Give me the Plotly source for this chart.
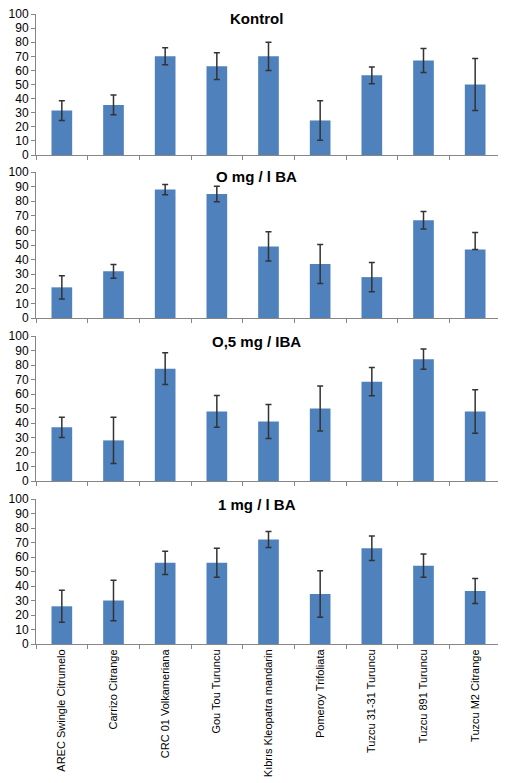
import plotly.graph_objects as go

categories = ["AREC Swingle Citrumelo", "Carrizo Citrange", "CRC 01 Volkameriana",
              "Gou Tou Turuncu", "Kıbrıs Kleopatra mandarin", "Pomeroy Trifoliata",
              "Tuzcu 31-31 Turuncu", "Tuzcu 891 Turuncu", "Tuzcu M2 Citrange"]

titles = ["Kontrol", "O mg / l BA", "O,5 mg / IBA", "1 mg / l BA"]

kontrol = [31.5, 35.5, 70, 63, 70, 24.5, 56.5, 67, 50]
kontrol_err = [7, 7, 6, 9.5, 10, 14, 6, 8.5, 18.5]
kontrol_err_minus = kontrol_err

mg0 = [21, 32, 88, 85, 49, 37, 28, 67, 47]
mg0_err = [8, 4.7, 3.5, 5.3, 10, 13.3, 10, 6, 11.5]
mg0_err_minus = [8, 4.7, 3.5, 5.3, 10, 13.3, 10, 6, 0]

mg05 = [37, 28, 77.5, 48, 41, 50, 68.5, 84, 48]
mg05_err = [7, 16, 11, 11, 11.7, 15.5, 9.7, 7, 15]
mg05_err_minus = mg05_err

mg1 = [26, 30, 56, 56, 72, 34.5, 66, 54, 36.5]
mg1_err = [11, 14, 8, 10, 5.5, 16, 8.5, 8, 8.6]
mg1_err_minus = mg1_err

series = [(kontrol, kontrol_err, kontrol_err_minus),
          (mg0, mg0_err, mg0_err_minus),
          (mg05, mg05_err, mg05_err_minus),
          (mg1, mg1_err, mg1_err_minus)]

y_ticks = [0, 10, 20, 30, 40, 50, 60, 70, 80, 90, 100]

# panel pixel positions (top, bottom) inside the plot area (height 630)
H = 630.0
panels_px = [(0, 141), (158, 304), (322, 467), (485, 630)]

fig = go.Figure()
FONT = "Liberation Sans, Arial, sans-serif"

for i, (vals, ep, em) in enumerate(series):
    n = i + 1
    xa = "x" if n == 1 else f"x{n}"
    ya = "y" if n == 1 else f"y{n}"
    fig.add_trace(go.Bar(
        x=categories, y=vals, xaxis=xa, yaxis=ya,
        marker=dict(color="#4F81BD", line=dict(width=0)),
        width=0.4,
        error_y=dict(type="data", array=ep, arrayminus=em, symmetric=False,
                     color="#333333", thickness=1.5, width=3),
        showlegend=False,
    ))
    top, bot = panels_px[i]
    dom = [1 - bot / H, 1 - top / H]
    xkey = "xaxis" if n == 1 else f"xaxis{n}"
    ykey = "yaxis" if n == 1 else f"yaxis{n}"
    fig.layout[xkey] = dict(
        domain=[0, 1], anchor=ya, type="category", automargin=False,
        categoryorder="array", categoryarray=categories,
        tickson="boundaries", ticks="outside", ticklen=4, tickcolor="#868686",
        showline=True, linecolor="#868686", linewidth=1,
        showgrid=False, zeroline=False,
        showticklabels=(n == 4), tickangle=-90, ticklabeloverflow="allow",
        tickfont=dict(family=FONT, size=11, color="#000000"),
        range=[-0.5, 8.5],
    )
    fig.layout[ykey] = dict(
        domain=dom, anchor=xa, range=[0, 100], automargin=False,
        tickvals=y_ticks, ticks="outside", ticklen=4, tickcolor="#868686",
        showline=True, linecolor="#868686", linewidth=1,
        showgrid=False, zeroline=False, ticklabeloverflow="allow",
        tickfont=dict(family=FONT, size=12, color="#000000"),
    )
    fig.add_annotation(
        text=f"<b>{titles[i]}</b>", xref="paper", yref="paper",
        x=0.475, y=1 - (top + 5) / H, xanchor="center", yanchor="middle",
        showarrow=False, font=dict(family=FONT, size=15, color="#000000"),
    )

fig.update_layout(
    width=498, height=775,
    margin=dict(l=28, r=5, t=6, b=139, autoexpand=False),
    paper_bgcolor="white", plot_bgcolor="white",
    bargap=0.6,
)

fig.write_html("out.html")
